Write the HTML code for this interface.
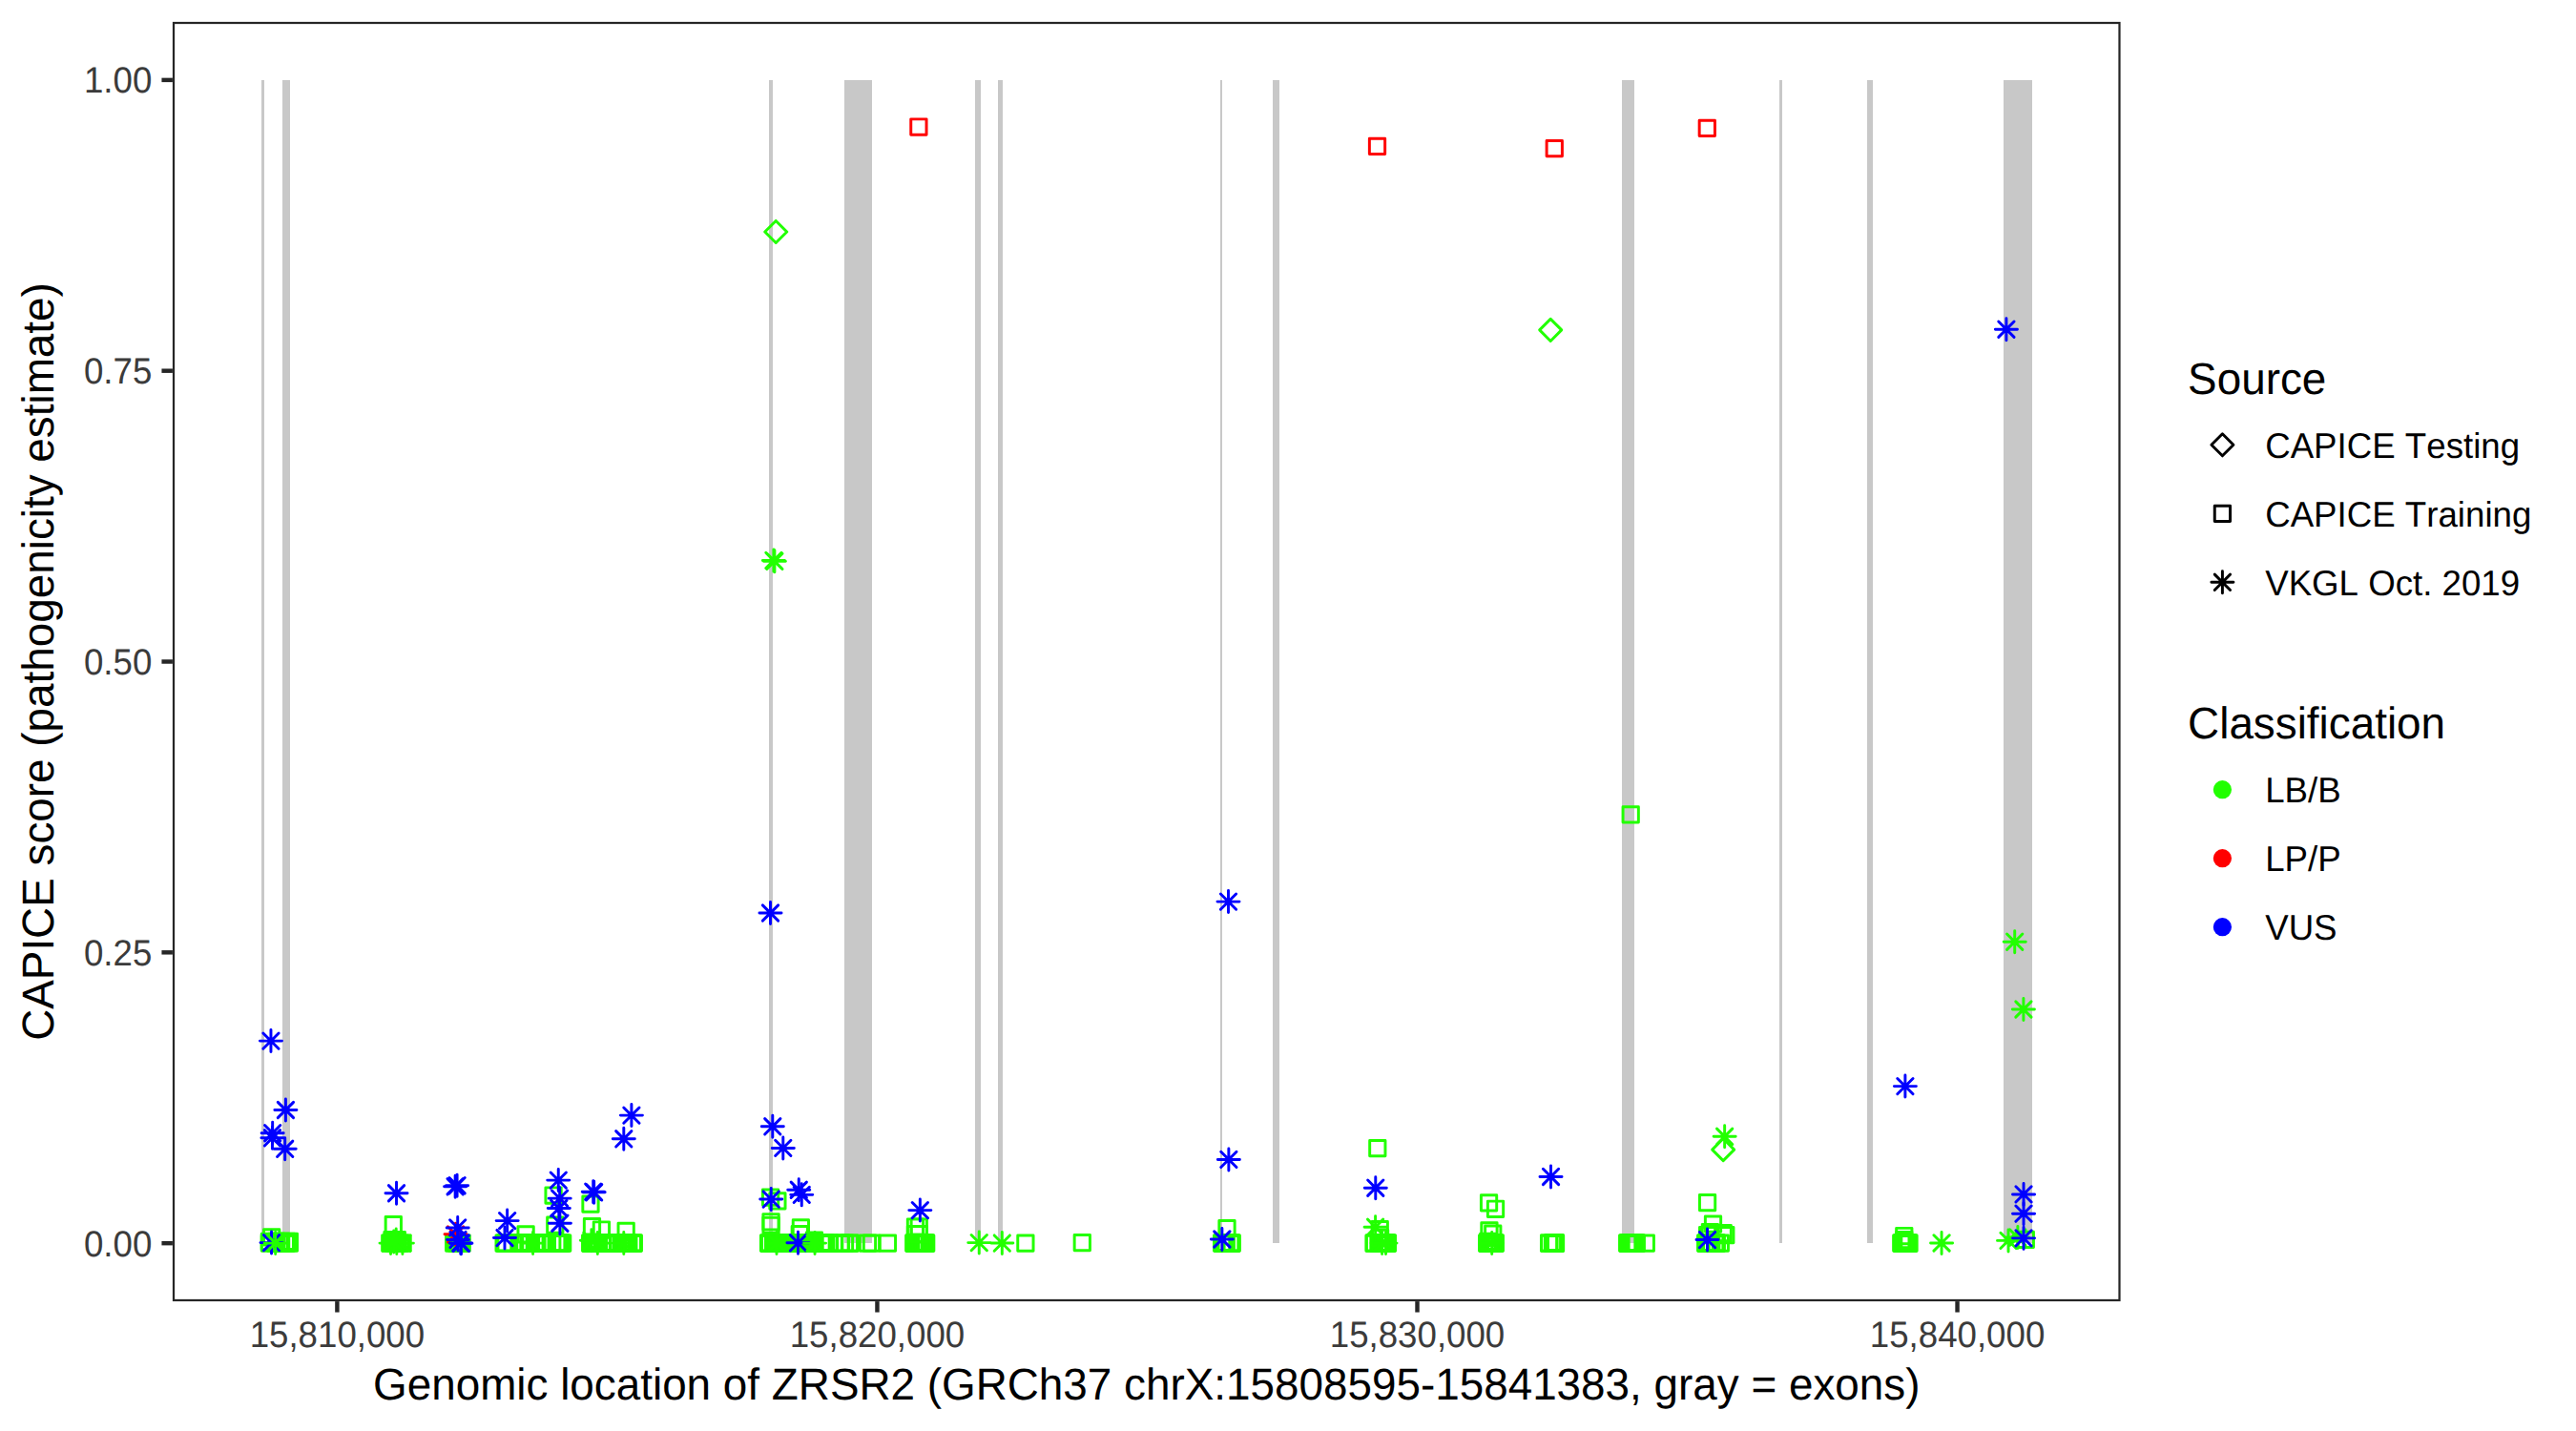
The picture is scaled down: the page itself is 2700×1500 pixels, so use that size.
<!DOCTYPE html>
<html lang="en">
<head>
<meta charset="utf-8">
<title>CAPICE score across ZRSR2</title>
<style>
html,body{margin:0;padding:0;background:#fff;}
body{width:2700px;height:1500px;overflow:hidden;}
svg{display:block;}
text{font-family:"Liberation Sans",Arial,Helvetica,sans-serif;font-kerning:none;font-feature-settings:"kern" 0,"liga" 0;text-rendering:geometricPrecision;}
.at{font-size:36.67px;fill:#3B3B3B;}
.ti{font-size:45.83px;fill:#000;}
.lt{font-size:36.67px;fill:#000;}
.pt{fill:none;stroke-width:2.95;stroke-linecap:round;stroke-linejoin:round;}
</style>
</head>
<body>
<svg width="2700" height="1500" viewBox="0 0 2700 1500">
<rect x="0" y="0" width="2700" height="1500" fill="#FFFFFF"/>

<g shape-rendering="crispEdges">
<rect x="274" y="84" width="3" height="1219" fill="#C8C8C8"/>
<rect x="296" y="84" width="8" height="1219" fill="#C8C8C8"/>
<rect x="806" y="84" width="4" height="1219" fill="#C8C8C8"/>
<rect x="885" y="84" width="29" height="1219" fill="#C8C8C8"/>
<rect x="1022" y="84" width="6" height="1219" fill="#C8C8C8"/>
<rect x="1046" y="84" width="5" height="1219" fill="#C8C8C8"/>
<rect x="1279" y="84" width="2" height="1219" fill="#C8C8C8"/>
<rect x="1334" y="84" width="7" height="1219" fill="#C8C8C8"/>
<rect x="1700" y="84" width="13" height="1219" fill="#C8C8C8"/>
<rect x="1865" y="84" width="3" height="1219" fill="#C8C8C8"/>
<rect x="1957" y="84" width="6" height="1219" fill="#C8C8C8"/>
<rect x="2100" y="84" width="30" height="1219" fill="#C8C8C8"/>
</g>
<g class="pt">
<rect x="954.75" y="124.86" width="16.29" height="16.29" stroke="#FF0000"/>
<rect x="1435.36" y="145.2" width="16.29" height="16.29" stroke="#FF0000"/>
<rect x="1621.11" y="147.45" width="16.29" height="16.29" stroke="#FF0000"/>
<rect x="1781.15" y="126.16" width="16.29" height="16.29" stroke="#FF0000"/>
<rect x="1701.06" y="845.75" width="16.29" height="16.29" stroke="#22FF00"/>
<rect x="276.56" y="1288.76" width="16.29" height="16.29" stroke="#22FF00"/>
<rect x="274.25" y="1294.95" width="16.29" height="16.29" stroke="#22FF00"/>
<rect x="281.46" y="1294.95" width="16.29" height="16.29" stroke="#22FF00"/>
<rect x="284.86" y="1294.95" width="16.29" height="16.29" stroke="#22FF00"/>
<rect x="286.36" y="1294.95" width="16.29" height="16.29" stroke="#22FF00"/>
<rect x="291.16" y="1294.95" width="16.29" height="16.29" stroke="#22FF00"/>
<rect x="292.36" y="1294.95" width="16.29" height="16.29" stroke="#22FF00"/>
<rect x="295.25" y="1294.95" width="16.29" height="16.29" stroke="#22FF00"/>
<rect x="274.25" y="1293.31" width="16.29" height="16.29" stroke="#22FF00"/>
<rect x="281.46" y="1293.31" width="16.29" height="16.29" stroke="#22FF00"/>
<rect x="286.36" y="1293.31" width="16.29" height="16.29" stroke="#22FF00"/>
<rect x="292.36" y="1293.31" width="16.29" height="16.29" stroke="#22FF00"/>
<rect x="295.25" y="1293.31" width="16.29" height="16.29" stroke="#22FF00"/>
<rect x="404.16" y="1275.51" width="16.29" height="16.29" stroke="#22FF00"/>
<rect x="400.66" y="1294.95" width="16.29" height="16.29" stroke="#22FF00"/>
<rect x="403.32" y="1294.95" width="16.29" height="16.29" stroke="#22FF00"/>
<rect x="405.98" y="1294.95" width="16.29" height="16.29" stroke="#22FF00"/>
<rect x="408.64" y="1294.95" width="16.29" height="16.29" stroke="#22FF00"/>
<rect x="411.3" y="1294.95" width="16.29" height="16.29" stroke="#22FF00"/>
<rect x="413.96" y="1294.95" width="16.29" height="16.29" stroke="#22FF00"/>
<rect x="402.86" y="1291.56" width="16.29" height="16.29" stroke="#22FF00"/>
<rect x="405.5" y="1291.56" width="16.29" height="16.29" stroke="#22FF00"/>
<rect x="408.16" y="1291.56" width="16.29" height="16.29" stroke="#22FF00"/>
<rect x="467.56" y="1294.95" width="16.29" height="16.29" stroke="#22FF00"/>
<rect x="470.39" y="1294.95" width="16.29" height="16.29" stroke="#22FF00"/>
<rect x="473.22" y="1294.95" width="16.29" height="16.29" stroke="#22FF00"/>
<rect x="476.06" y="1294.95" width="16.29" height="16.29" stroke="#22FF00"/>
<rect x="519.98" y="1294.95" width="16.29" height="16.29" stroke="#22FF00"/>
<rect x="520.97" y="1294.95" width="16.29" height="16.29" stroke="#22FF00"/>
<rect x="521.97" y="1294.95" width="16.29" height="16.29" stroke="#22FF00"/>
<rect x="535.87" y="1294.95" width="16.29" height="16.29" stroke="#22FF00"/>
<rect x="536.86" y="1294.95" width="16.29" height="16.29" stroke="#22FF00"/>
<rect x="537.85" y="1294.95" width="16.29" height="16.29" stroke="#22FF00"/>
<rect x="538.85" y="1294.95" width="16.29" height="16.29" stroke="#22FF00"/>
<rect x="539.84" y="1294.95" width="16.29" height="16.29" stroke="#22FF00"/>
<rect x="540.83" y="1294.95" width="16.29" height="16.29" stroke="#22FF00"/>
<rect x="541.82" y="1294.95" width="16.29" height="16.29" stroke="#22FF00"/>
<rect x="545.8" y="1294.95" width="16.29" height="16.29" stroke="#22FF00"/>
<rect x="546.78" y="1294.95" width="16.29" height="16.29" stroke="#22FF00"/>
<rect x="547.77" y="1294.95" width="16.29" height="16.29" stroke="#22FF00"/>
<rect x="552.75" y="1294.95" width="16.29" height="16.29" stroke="#22FF00"/>
<rect x="553.74" y="1294.95" width="16.29" height="16.29" stroke="#22FF00"/>
<rect x="554.73" y="1294.95" width="16.29" height="16.29" stroke="#22FF00"/>
<rect x="558.7" y="1294.95" width="16.29" height="16.29" stroke="#22FF00"/>
<rect x="559.7" y="1294.95" width="16.29" height="16.29" stroke="#22FF00"/>
<rect x="560.69" y="1294.95" width="16.29" height="16.29" stroke="#22FF00"/>
<rect x="561.68" y="1294.95" width="16.29" height="16.29" stroke="#22FF00"/>
<rect x="562.66" y="1294.95" width="16.29" height="16.29" stroke="#22FF00"/>
<rect x="563.66" y="1294.95" width="16.29" height="16.29" stroke="#22FF00"/>
<rect x="564.65" y="1294.95" width="16.29" height="16.29" stroke="#22FF00"/>
<rect x="570.62" y="1294.95" width="16.29" height="16.29" stroke="#22FF00"/>
<rect x="575.58" y="1294.95" width="16.29" height="16.29" stroke="#22FF00"/>
<rect x="576.58" y="1294.95" width="16.29" height="16.29" stroke="#22FF00"/>
<rect x="577.57" y="1294.95" width="16.29" height="16.29" stroke="#22FF00"/>
<rect x="578.56" y="1294.95" width="16.29" height="16.29" stroke="#22FF00"/>
<rect x="579.55" y="1294.95" width="16.29" height="16.29" stroke="#22FF00"/>
<rect x="580.55" y="1294.95" width="16.29" height="16.29" stroke="#22FF00"/>
<rect x="581.53" y="1294.95" width="16.29" height="16.29" stroke="#22FF00"/>
<rect x="542.96" y="1285.65" width="16.29" height="16.29" stroke="#22FF00"/>
<rect x="571.93" y="1244.86" width="16.29" height="16.29" stroke="#22FF00"/>
<rect x="573.65" y="1275.95" width="16.29" height="16.29" stroke="#22FF00"/>
<rect x="610.56" y="1294.95" width="16.29" height="16.29" stroke="#22FF00"/>
<rect x="611.06" y="1294.95" width="16.29" height="16.29" stroke="#22FF00"/>
<rect x="611.56" y="1294.95" width="16.29" height="16.29" stroke="#22FF00"/>
<rect x="612.06" y="1294.95" width="16.29" height="16.29" stroke="#22FF00"/>
<rect x="612.56" y="1294.95" width="16.29" height="16.29" stroke="#22FF00"/>
<rect x="613.07" y="1294.95" width="16.29" height="16.29" stroke="#22FF00"/>
<rect x="613.57" y="1294.95" width="16.29" height="16.29" stroke="#22FF00"/>
<rect x="614.07" y="1294.95" width="16.29" height="16.29" stroke="#22FF00"/>
<rect x="614.57" y="1294.95" width="16.29" height="16.29" stroke="#22FF00"/>
<rect x="615.07" y="1294.95" width="16.29" height="16.29" stroke="#22FF00"/>
<rect x="615.57" y="1294.95" width="16.29" height="16.29" stroke="#22FF00"/>
<rect x="616.07" y="1294.95" width="16.29" height="16.29" stroke="#22FF00"/>
<rect x="616.57" y="1294.95" width="16.29" height="16.29" stroke="#22FF00"/>
<rect x="617.08" y="1294.95" width="16.29" height="16.29" stroke="#22FF00"/>
<rect x="617.58" y="1294.95" width="16.29" height="16.29" stroke="#22FF00"/>
<rect x="618.08" y="1294.95" width="16.29" height="16.29" stroke="#22FF00"/>
<rect x="618.58" y="1294.95" width="16.29" height="16.29" stroke="#22FF00"/>
<rect x="619.08" y="1294.95" width="16.29" height="16.29" stroke="#22FF00"/>
<rect x="623.09" y="1294.95" width="16.29" height="16.29" stroke="#22FF00"/>
<rect x="623.59" y="1294.95" width="16.29" height="16.29" stroke="#22FF00"/>
<rect x="627.1" y="1294.95" width="16.29" height="16.29" stroke="#22FF00"/>
<rect x="627.6" y="1294.95" width="16.29" height="16.29" stroke="#22FF00"/>
<rect x="628.1" y="1294.95" width="16.29" height="16.29" stroke="#22FF00"/>
<rect x="628.6" y="1294.95" width="16.29" height="16.29" stroke="#22FF00"/>
<rect x="629.1" y="1294.95" width="16.29" height="16.29" stroke="#22FF00"/>
<rect x="629.61" y="1294.95" width="16.29" height="16.29" stroke="#22FF00"/>
<rect x="630.11" y="1294.95" width="16.29" height="16.29" stroke="#22FF00"/>
<rect x="630.61" y="1294.95" width="16.29" height="16.29" stroke="#22FF00"/>
<rect x="631.11" y="1294.95" width="16.29" height="16.29" stroke="#22FF00"/>
<rect x="631.61" y="1294.95" width="16.29" height="16.29" stroke="#22FF00"/>
<rect x="632.11" y="1294.95" width="16.29" height="16.29" stroke="#22FF00"/>
<rect x="632.61" y="1294.95" width="16.29" height="16.29" stroke="#22FF00"/>
<rect x="633.11" y="1294.95" width="16.29" height="16.29" stroke="#22FF00"/>
<rect x="633.62" y="1294.95" width="16.29" height="16.29" stroke="#22FF00"/>
<rect x="634.12" y="1294.95" width="16.29" height="16.29" stroke="#22FF00"/>
<rect x="634.62" y="1294.95" width="16.29" height="16.29" stroke="#22FF00"/>
<rect x="635.12" y="1294.95" width="16.29" height="16.29" stroke="#22FF00"/>
<rect x="635.62" y="1294.95" width="16.29" height="16.29" stroke="#22FF00"/>
<rect x="639.62" y="1294.95" width="16.29" height="16.29" stroke="#22FF00"/>
<rect x="643.13" y="1294.95" width="16.29" height="16.29" stroke="#22FF00"/>
<rect x="643.63" y="1294.95" width="16.29" height="16.29" stroke="#22FF00"/>
<rect x="644.13" y="1294.95" width="16.29" height="16.29" stroke="#22FF00"/>
<rect x="644.63" y="1294.95" width="16.29" height="16.29" stroke="#22FF00"/>
<rect x="645.13" y="1294.95" width="16.29" height="16.29" stroke="#22FF00"/>
<rect x="645.63" y="1294.95" width="16.29" height="16.29" stroke="#22FF00"/>
<rect x="646.14" y="1294.95" width="16.29" height="16.29" stroke="#22FF00"/>
<rect x="646.64" y="1294.95" width="16.29" height="16.29" stroke="#22FF00"/>
<rect x="647.14" y="1294.95" width="16.29" height="16.29" stroke="#22FF00"/>
<rect x="647.64" y="1294.95" width="16.29" height="16.29" stroke="#22FF00"/>
<rect x="648.14" y="1294.95" width="16.29" height="16.29" stroke="#22FF00"/>
<rect x="648.64" y="1294.95" width="16.29" height="16.29" stroke="#22FF00"/>
<rect x="649.14" y="1294.95" width="16.29" height="16.29" stroke="#22FF00"/>
<rect x="649.64" y="1294.95" width="16.29" height="16.29" stroke="#22FF00"/>
<rect x="650.15" y="1294.95" width="16.29" height="16.29" stroke="#22FF00"/>
<rect x="650.65" y="1294.95" width="16.29" height="16.29" stroke="#22FF00"/>
<rect x="655.16" y="1294.95" width="16.29" height="16.29" stroke="#22FF00"/>
<rect x="655.66" y="1294.95" width="16.29" height="16.29" stroke="#22FF00"/>
<rect x="656.16" y="1294.95" width="16.29" height="16.29" stroke="#22FF00"/>
<rect x="610.83" y="1253.95" width="16.29" height="16.29" stroke="#22FF00"/>
<rect x="612.34" y="1277.59" width="16.29" height="16.29" stroke="#22FF00"/>
<rect x="622.25" y="1280.86" width="16.29" height="16.29" stroke="#22FF00"/>
<rect x="648.03" y="1282.26" width="16.29" height="16.29" stroke="#22FF00"/>
<rect x="797.44" y="1294.95" width="16.29" height="16.29" stroke="#22FF00"/>
<rect x="797.94" y="1294.95" width="16.29" height="16.29" stroke="#22FF00"/>
<rect x="798.44" y="1294.95" width="16.29" height="16.29" stroke="#22FF00"/>
<rect x="802.43" y="1294.95" width="16.29" height="16.29" stroke="#22FF00"/>
<rect x="802.93" y="1294.95" width="16.29" height="16.29" stroke="#22FF00"/>
<rect x="803.43" y="1294.95" width="16.29" height="16.29" stroke="#22FF00"/>
<rect x="803.93" y="1294.95" width="16.29" height="16.29" stroke="#22FF00"/>
<rect x="804.43" y="1294.95" width="16.29" height="16.29" stroke="#22FF00"/>
<rect x="804.93" y="1294.95" width="16.29" height="16.29" stroke="#22FF00"/>
<rect x="805.43" y="1294.95" width="16.29" height="16.29" stroke="#22FF00"/>
<rect x="805.93" y="1294.95" width="16.29" height="16.29" stroke="#22FF00"/>
<rect x="806.43" y="1294.95" width="16.29" height="16.29" stroke="#22FF00"/>
<rect x="806.93" y="1294.95" width="16.29" height="16.29" stroke="#22FF00"/>
<rect x="807.43" y="1294.95" width="16.29" height="16.29" stroke="#22FF00"/>
<rect x="807.93" y="1294.95" width="16.29" height="16.29" stroke="#22FF00"/>
<rect x="808.43" y="1294.95" width="16.29" height="16.29" stroke="#22FF00"/>
<rect x="808.93" y="1294.95" width="16.29" height="16.29" stroke="#22FF00"/>
<rect x="809.43" y="1294.95" width="16.29" height="16.29" stroke="#22FF00"/>
<rect x="809.93" y="1294.95" width="16.29" height="16.29" stroke="#22FF00"/>
<rect x="810.41" y="1294.95" width="16.29" height="16.29" stroke="#22FF00"/>
<rect x="810.91" y="1294.95" width="16.29" height="16.29" stroke="#22FF00"/>
<rect x="811.41" y="1294.95" width="16.29" height="16.29" stroke="#22FF00"/>
<rect x="811.91" y="1294.95" width="16.29" height="16.29" stroke="#22FF00"/>
<rect x="812.41" y="1294.95" width="16.29" height="16.29" stroke="#22FF00"/>
<rect x="812.91" y="1294.95" width="16.29" height="16.29" stroke="#22FF00"/>
<rect x="813.41" y="1294.95" width="16.29" height="16.29" stroke="#22FF00"/>
<rect x="813.91" y="1294.95" width="16.29" height="16.29" stroke="#22FF00"/>
<rect x="814.41" y="1294.95" width="16.29" height="16.29" stroke="#22FF00"/>
<rect x="814.91" y="1294.95" width="16.29" height="16.29" stroke="#22FF00"/>
<rect x="815.41" y="1294.95" width="16.29" height="16.29" stroke="#22FF00"/>
<rect x="815.91" y="1294.95" width="16.29" height="16.29" stroke="#22FF00"/>
<rect x="816.41" y="1294.95" width="16.29" height="16.29" stroke="#22FF00"/>
<rect x="816.91" y="1294.95" width="16.29" height="16.29" stroke="#22FF00"/>
<rect x="817.41" y="1294.95" width="16.29" height="16.29" stroke="#22FF00"/>
<rect x="817.91" y="1294.95" width="16.29" height="16.29" stroke="#22FF00"/>
<rect x="818.4" y="1294.95" width="16.29" height="16.29" stroke="#22FF00"/>
<rect x="818.9" y="1294.95" width="16.29" height="16.29" stroke="#22FF00"/>
<rect x="819.4" y="1294.95" width="16.29" height="16.29" stroke="#22FF00"/>
<rect x="819.9" y="1294.95" width="16.29" height="16.29" stroke="#22FF00"/>
<rect x="820.4" y="1294.95" width="16.29" height="16.29" stroke="#22FF00"/>
<rect x="820.9" y="1294.95" width="16.29" height="16.29" stroke="#22FF00"/>
<rect x="821.4" y="1294.95" width="16.29" height="16.29" stroke="#22FF00"/>
<rect x="821.9" y="1294.95" width="16.29" height="16.29" stroke="#22FF00"/>
<rect x="822.4" y="1294.95" width="16.29" height="16.29" stroke="#22FF00"/>
<rect x="822.9" y="1294.95" width="16.29" height="16.29" stroke="#22FF00"/>
<rect x="823.4" y="1294.95" width="16.29" height="16.29" stroke="#22FF00"/>
<rect x="823.9" y="1294.95" width="16.29" height="16.29" stroke="#22FF00"/>
<rect x="824.4" y="1294.95" width="16.29" height="16.29" stroke="#22FF00"/>
<rect x="824.9" y="1294.95" width="16.29" height="16.29" stroke="#22FF00"/>
<rect x="825.4" y="1294.95" width="16.29" height="16.29" stroke="#22FF00"/>
<rect x="825.9" y="1294.95" width="16.29" height="16.29" stroke="#22FF00"/>
<rect x="826.4" y="1294.95" width="16.29" height="16.29" stroke="#22FF00"/>
<rect x="826.89" y="1294.95" width="16.29" height="16.29" stroke="#22FF00"/>
<rect x="827.39" y="1294.95" width="16.29" height="16.29" stroke="#22FF00"/>
<rect x="827.89" y="1294.95" width="16.29" height="16.29" stroke="#22FF00"/>
<rect x="828.39" y="1294.95" width="16.29" height="16.29" stroke="#22FF00"/>
<rect x="828.89" y="1294.95" width="16.29" height="16.29" stroke="#22FF00"/>
<rect x="829.39" y="1294.95" width="16.29" height="16.29" stroke="#22FF00"/>
<rect x="829.89" y="1294.95" width="16.29" height="16.29" stroke="#22FF00"/>
<rect x="830.39" y="1294.95" width="16.29" height="16.29" stroke="#22FF00"/>
<rect x="830.89" y="1294.95" width="16.29" height="16.29" stroke="#22FF00"/>
<rect x="831.39" y="1294.95" width="16.29" height="16.29" stroke="#22FF00"/>
<rect x="831.89" y="1294.95" width="16.29" height="16.29" stroke="#22FF00"/>
<rect x="832.39" y="1294.95" width="16.29" height="16.29" stroke="#22FF00"/>
<rect x="832.89" y="1294.95" width="16.29" height="16.29" stroke="#22FF00"/>
<rect x="833.39" y="1294.95" width="16.29" height="16.29" stroke="#22FF00"/>
<rect x="833.89" y="1294.95" width="16.29" height="16.29" stroke="#22FF00"/>
<rect x="834.39" y="1294.95" width="16.29" height="16.29" stroke="#22FF00"/>
<rect x="834.88" y="1294.95" width="16.29" height="16.29" stroke="#22FF00"/>
<rect x="835.38" y="1294.95" width="16.29" height="16.29" stroke="#22FF00"/>
<rect x="835.88" y="1294.95" width="16.29" height="16.29" stroke="#22FF00"/>
<rect x="836.38" y="1294.95" width="16.29" height="16.29" stroke="#22FF00"/>
<rect x="836.88" y="1294.95" width="16.29" height="16.29" stroke="#22FF00"/>
<rect x="837.38" y="1294.95" width="16.29" height="16.29" stroke="#22FF00"/>
<rect x="837.88" y="1294.95" width="16.29" height="16.29" stroke="#22FF00"/>
<rect x="838.38" y="1294.95" width="16.29" height="16.29" stroke="#22FF00"/>
<rect x="838.88" y="1294.95" width="16.29" height="16.29" stroke="#22FF00"/>
<rect x="839.38" y="1294.95" width="16.29" height="16.29" stroke="#22FF00"/>
<rect x="839.88" y="1294.95" width="16.29" height="16.29" stroke="#22FF00"/>
<rect x="840.38" y="1294.95" width="16.29" height="16.29" stroke="#22FF00"/>
<rect x="840.88" y="1294.95" width="16.29" height="16.29" stroke="#22FF00"/>
<rect x="841.38" y="1294.95" width="16.29" height="16.29" stroke="#22FF00"/>
<rect x="841.88" y="1294.95" width="16.29" height="16.29" stroke="#22FF00"/>
<rect x="842.38" y="1294.95" width="16.29" height="16.29" stroke="#22FF00"/>
<rect x="842.88" y="1294.95" width="16.29" height="16.29" stroke="#22FF00"/>
<rect x="843.38" y="1294.95" width="16.29" height="16.29" stroke="#22FF00"/>
<rect x="843.88" y="1294.95" width="16.29" height="16.29" stroke="#22FF00"/>
<rect x="844.38" y="1294.95" width="16.29" height="16.29" stroke="#22FF00"/>
<rect x="844.88" y="1294.95" width="16.29" height="16.29" stroke="#22FF00"/>
<rect x="845.38" y="1294.95" width="16.29" height="16.29" stroke="#22FF00"/>
<rect x="845.88" y="1294.95" width="16.29" height="16.29" stroke="#22FF00"/>
<rect x="852.87" y="1294.95" width="16.29" height="16.29" stroke="#22FF00"/>
<rect x="853.37" y="1294.95" width="16.29" height="16.29" stroke="#22FF00"/>
<rect x="853.87" y="1294.95" width="16.29" height="16.29" stroke="#22FF00"/>
<rect x="854.37" y="1294.95" width="16.29" height="16.29" stroke="#22FF00"/>
<rect x="854.87" y="1294.95" width="16.29" height="16.29" stroke="#22FF00"/>
<rect x="855.37" y="1294.95" width="16.29" height="16.29" stroke="#22FF00"/>
<rect x="855.87" y="1294.95" width="16.29" height="16.29" stroke="#22FF00"/>
<rect x="856.37" y="1294.95" width="16.29" height="16.29" stroke="#22FF00"/>
<rect x="856.87" y="1294.95" width="16.29" height="16.29" stroke="#22FF00"/>
<rect x="857.37" y="1294.95" width="16.29" height="16.29" stroke="#22FF00"/>
<rect x="860.86" y="1294.95" width="16.29" height="16.29" stroke="#22FF00"/>
<rect x="861.36" y="1294.95" width="16.29" height="16.29" stroke="#22FF00"/>
<rect x="872.85" y="1294.95" width="16.29" height="16.29" stroke="#22FF00"/>
<rect x="873.35" y="1294.95" width="16.29" height="16.29" stroke="#22FF00"/>
<rect x="877.34" y="1294.95" width="16.29" height="16.29" stroke="#22FF00"/>
<rect x="882.34" y="1294.95" width="16.29" height="16.29" stroke="#22FF00"/>
<rect x="882.84" y="1294.95" width="16.29" height="16.29" stroke="#22FF00"/>
<rect x="901.32" y="1294.95" width="16.29" height="16.29" stroke="#22FF00"/>
<rect x="905.31" y="1294.95" width="16.29" height="16.29" stroke="#22FF00"/>
<rect x="922.28" y="1294.95" width="16.29" height="16.29" stroke="#22FF00"/>
<rect x="799.44" y="1247.06" width="16.29" height="16.29" stroke="#22FF00"/>
<rect x="806.74" y="1250.71" width="16.29" height="16.29" stroke="#22FF00"/>
<rect x="799.93" y="1272.62" width="16.29" height="16.29" stroke="#22FF00"/>
<rect x="799.93" y="1276.26" width="16.29" height="16.29" stroke="#22FF00"/>
<rect x="831.24" y="1278.8" width="16.29" height="16.29" stroke="#22FF00"/>
<rect x="830.15" y="1285.56" width="16.29" height="16.29" stroke="#22FF00"/>
<rect x="845.25" y="1291.86" width="16.29" height="16.29" stroke="#22FF00"/>
<rect x="949.68" y="1294.95" width="16.29" height="16.29" stroke="#22FF00"/>
<rect x="950.16" y="1294.95" width="16.29" height="16.29" stroke="#22FF00"/>
<rect x="950.66" y="1294.95" width="16.29" height="16.29" stroke="#22FF00"/>
<rect x="951.15" y="1294.95" width="16.29" height="16.29" stroke="#22FF00"/>
<rect x="951.65" y="1294.95" width="16.29" height="16.29" stroke="#22FF00"/>
<rect x="952.14" y="1294.95" width="16.29" height="16.29" stroke="#22FF00"/>
<rect x="952.64" y="1294.95" width="16.29" height="16.29" stroke="#22FF00"/>
<rect x="953.13" y="1294.95" width="16.29" height="16.29" stroke="#22FF00"/>
<rect x="953.63" y="1294.95" width="16.29" height="16.29" stroke="#22FF00"/>
<rect x="954.12" y="1294.95" width="16.29" height="16.29" stroke="#22FF00"/>
<rect x="954.62" y="1294.95" width="16.29" height="16.29" stroke="#22FF00"/>
<rect x="955.12" y="1294.95" width="16.29" height="16.29" stroke="#22FF00"/>
<rect x="955.62" y="1294.95" width="16.29" height="16.29" stroke="#22FF00"/>
<rect x="956.11" y="1294.95" width="16.29" height="16.29" stroke="#22FF00"/>
<rect x="956.61" y="1294.95" width="16.29" height="16.29" stroke="#22FF00"/>
<rect x="957.1" y="1294.95" width="16.29" height="16.29" stroke="#22FF00"/>
<rect x="957.6" y="1294.95" width="16.29" height="16.29" stroke="#22FF00"/>
<rect x="958.09" y="1294.95" width="16.29" height="16.29" stroke="#22FF00"/>
<rect x="958.59" y="1294.95" width="16.29" height="16.29" stroke="#22FF00"/>
<rect x="959.08" y="1294.95" width="16.29" height="16.29" stroke="#22FF00"/>
<rect x="959.58" y="1294.95" width="16.29" height="16.29" stroke="#22FF00"/>
<rect x="960.07" y="1294.95" width="16.29" height="16.29" stroke="#22FF00"/>
<rect x="960.57" y="1294.95" width="16.29" height="16.29" stroke="#22FF00"/>
<rect x="961.06" y="1294.95" width="16.29" height="16.29" stroke="#22FF00"/>
<rect x="961.56" y="1294.95" width="16.29" height="16.29" stroke="#22FF00"/>
<rect x="962.05" y="1294.95" width="16.29" height="16.29" stroke="#22FF00"/>
<rect x="962.55" y="1294.95" width="16.29" height="16.29" stroke="#22FF00"/>
<rect x="951.32" y="1277.86" width="16.29" height="16.29" stroke="#22FF00"/>
<rect x="955.12" y="1277.86" width="16.29" height="16.29" stroke="#22FF00"/>
<rect x="951.32" y="1285.45" width="16.29" height="16.29" stroke="#22FF00"/>
<rect x="955.12" y="1285.45" width="16.29" height="16.29" stroke="#22FF00"/>
<rect x="1066.75" y="1294.9" width="16.29" height="16.29" stroke="#22FF00"/>
<rect x="1126.15" y="1294.45" width="16.29" height="16.29" stroke="#22FF00"/>
<rect x="1272.54" y="1294.95" width="16.29" height="16.29" stroke="#22FF00"/>
<rect x="1273.04" y="1294.95" width="16.29" height="16.29" stroke="#22FF00"/>
<rect x="1273.54" y="1294.95" width="16.29" height="16.29" stroke="#22FF00"/>
<rect x="1274.05" y="1294.95" width="16.29" height="16.29" stroke="#22FF00"/>
<rect x="1274.55" y="1294.95" width="16.29" height="16.29" stroke="#22FF00"/>
<rect x="1275.05" y="1294.95" width="16.29" height="16.29" stroke="#22FF00"/>
<rect x="1275.55" y="1294.95" width="16.29" height="16.29" stroke="#22FF00"/>
<rect x="1276.06" y="1294.95" width="16.29" height="16.29" stroke="#22FF00"/>
<rect x="1276.56" y="1294.95" width="16.29" height="16.29" stroke="#22FF00"/>
<rect x="1277.06" y="1294.95" width="16.29" height="16.29" stroke="#22FF00"/>
<rect x="1281.58" y="1294.95" width="16.29" height="16.29" stroke="#22FF00"/>
<rect x="1282.09" y="1294.95" width="16.29" height="16.29" stroke="#22FF00"/>
<rect x="1282.59" y="1294.95" width="16.29" height="16.29" stroke="#22FF00"/>
<rect x="1283.09" y="1294.95" width="16.29" height="16.29" stroke="#22FF00"/>
<rect x="1277.86" y="1279.58" width="16.29" height="16.29" stroke="#22FF00"/>
<rect x="1431.9" y="1294.95" width="16.29" height="16.29" stroke="#22FF00"/>
<rect x="1432.4" y="1294.95" width="16.29" height="16.29" stroke="#22FF00"/>
<rect x="1436.86" y="1294.95" width="16.29" height="16.29" stroke="#22FF00"/>
<rect x="1437.36" y="1294.95" width="16.29" height="16.29" stroke="#22FF00"/>
<rect x="1437.85" y="1294.95" width="16.29" height="16.29" stroke="#22FF00"/>
<rect x="1438.35" y="1294.95" width="16.29" height="16.29" stroke="#22FF00"/>
<rect x="1438.84" y="1294.95" width="16.29" height="16.29" stroke="#22FF00"/>
<rect x="1439.34" y="1294.95" width="16.29" height="16.29" stroke="#22FF00"/>
<rect x="1439.83" y="1294.95" width="16.29" height="16.29" stroke="#22FF00"/>
<rect x="1440.33" y="1294.95" width="16.29" height="16.29" stroke="#22FF00"/>
<rect x="1440.82" y="1294.95" width="16.29" height="16.29" stroke="#22FF00"/>
<rect x="1441.32" y="1294.95" width="16.29" height="16.29" stroke="#22FF00"/>
<rect x="1441.81" y="1294.95" width="16.29" height="16.29" stroke="#22FF00"/>
<rect x="1442.31" y="1294.95" width="16.29" height="16.29" stroke="#22FF00"/>
<rect x="1442.8" y="1294.95" width="16.29" height="16.29" stroke="#22FF00"/>
<rect x="1443.3" y="1294.95" width="16.29" height="16.29" stroke="#22FF00"/>
<rect x="1443.79" y="1294.95" width="16.29" height="16.29" stroke="#22FF00"/>
<rect x="1444.29" y="1294.95" width="16.29" height="16.29" stroke="#22FF00"/>
<rect x="1444.78" y="1294.95" width="16.29" height="16.29" stroke="#22FF00"/>
<rect x="1445.28" y="1294.95" width="16.29" height="16.29" stroke="#22FF00"/>
<rect x="1445.77" y="1294.95" width="16.29" height="16.29" stroke="#22FF00"/>
<rect x="1446.27" y="1294.95" width="16.29" height="16.29" stroke="#22FF00"/>
<rect x="1435.67" y="1195.47" width="16.29" height="16.29" stroke="#22FF00"/>
<rect x="1438.1" y="1280.49" width="16.29" height="16.29" stroke="#22FF00"/>
<rect x="1438.45" y="1289.36" width="16.29" height="16.29" stroke="#22FF00"/>
<rect x="1550.54" y="1294.95" width="16.29" height="16.29" stroke="#22FF00"/>
<rect x="1551.05" y="1294.95" width="16.29" height="16.29" stroke="#22FF00"/>
<rect x="1551.55" y="1294.95" width="16.29" height="16.29" stroke="#22FF00"/>
<rect x="1552.06" y="1294.95" width="16.29" height="16.29" stroke="#22FF00"/>
<rect x="1552.57" y="1294.95" width="16.29" height="16.29" stroke="#22FF00"/>
<rect x="1553.08" y="1294.95" width="16.29" height="16.29" stroke="#22FF00"/>
<rect x="1553.58" y="1294.95" width="16.29" height="16.29" stroke="#22FF00"/>
<rect x="1554.09" y="1294.95" width="16.29" height="16.29" stroke="#22FF00"/>
<rect x="1554.6" y="1294.95" width="16.29" height="16.29" stroke="#22FF00"/>
<rect x="1555.1" y="1294.95" width="16.29" height="16.29" stroke="#22FF00"/>
<rect x="1555.61" y="1294.95" width="16.29" height="16.29" stroke="#22FF00"/>
<rect x="1556.12" y="1294.95" width="16.29" height="16.29" stroke="#22FF00"/>
<rect x="1556.62" y="1294.95" width="16.29" height="16.29" stroke="#22FF00"/>
<rect x="1557.12" y="1294.95" width="16.29" height="16.29" stroke="#22FF00"/>
<rect x="1557.63" y="1294.95" width="16.29" height="16.29" stroke="#22FF00"/>
<rect x="1558.14" y="1294.95" width="16.29" height="16.29" stroke="#22FF00"/>
<rect x="1558.64" y="1294.95" width="16.29" height="16.29" stroke="#22FF00"/>
<rect x="1559.15" y="1294.95" width="16.29" height="16.29" stroke="#22FF00"/>
<rect x="1552.42" y="1252.77" width="16.29" height="16.29" stroke="#22FF00"/>
<rect x="1559.38" y="1259.12" width="16.29" height="16.29" stroke="#22FF00"/>
<rect x="1552.8" y="1281.79" width="16.29" height="16.29" stroke="#22FF00"/>
<rect x="1556.63" y="1284.93" width="16.29" height="16.29" stroke="#22FF00"/>
<rect x="1551.65" y="1293.12" width="16.29" height="16.29" stroke="#22FF00"/>
<rect x="1615.46" y="1294.95" width="16.29" height="16.29" stroke="#22FF00"/>
<rect x="1615.71" y="1294.95" width="16.29" height="16.29" stroke="#22FF00"/>
<rect x="1619.4" y="1294.95" width="16.29" height="16.29" stroke="#22FF00"/>
<rect x="1619.65" y="1294.95" width="16.29" height="16.29" stroke="#22FF00"/>
<rect x="1619.9" y="1294.95" width="16.29" height="16.29" stroke="#22FF00"/>
<rect x="1620.14" y="1294.95" width="16.29" height="16.29" stroke="#22FF00"/>
<rect x="1620.39" y="1294.95" width="16.29" height="16.29" stroke="#22FF00"/>
<rect x="1620.64" y="1294.95" width="16.29" height="16.29" stroke="#22FF00"/>
<rect x="1620.88" y="1294.95" width="16.29" height="16.29" stroke="#22FF00"/>
<rect x="1621.13" y="1294.95" width="16.29" height="16.29" stroke="#22FF00"/>
<rect x="1621.38" y="1294.95" width="16.29" height="16.29" stroke="#22FF00"/>
<rect x="1621.62" y="1294.95" width="16.29" height="16.29" stroke="#22FF00"/>
<rect x="1621.88" y="1294.95" width="16.29" height="16.29" stroke="#22FF00"/>
<rect x="1622.12" y="1294.95" width="16.29" height="16.29" stroke="#22FF00"/>
<rect x="1622.37" y="1294.95" width="16.29" height="16.29" stroke="#22FF00"/>
<rect x="1697.58" y="1294.95" width="16.29" height="16.29" stroke="#22FF00"/>
<rect x="1698.08" y="1294.95" width="16.29" height="16.29" stroke="#22FF00"/>
<rect x="1698.58" y="1294.95" width="16.29" height="16.29" stroke="#22FF00"/>
<rect x="1699.09" y="1294.95" width="16.29" height="16.29" stroke="#22FF00"/>
<rect x="1699.59" y="1294.95" width="16.29" height="16.29" stroke="#22FF00"/>
<rect x="1700.09" y="1294.95" width="16.29" height="16.29" stroke="#22FF00"/>
<rect x="1700.59" y="1294.95" width="16.29" height="16.29" stroke="#22FF00"/>
<rect x="1701.1" y="1294.95" width="16.29" height="16.29" stroke="#22FF00"/>
<rect x="1701.6" y="1294.95" width="16.29" height="16.29" stroke="#22FF00"/>
<rect x="1702.1" y="1294.95" width="16.29" height="16.29" stroke="#22FF00"/>
<rect x="1702.6" y="1294.95" width="16.29" height="16.29" stroke="#22FF00"/>
<rect x="1703.11" y="1294.95" width="16.29" height="16.29" stroke="#22FF00"/>
<rect x="1703.61" y="1294.95" width="16.29" height="16.29" stroke="#22FF00"/>
<rect x="1704.11" y="1294.95" width="16.29" height="16.29" stroke="#22FF00"/>
<rect x="1704.61" y="1294.95" width="16.29" height="16.29" stroke="#22FF00"/>
<rect x="1705.11" y="1294.95" width="16.29" height="16.29" stroke="#22FF00"/>
<rect x="1705.62" y="1294.95" width="16.29" height="16.29" stroke="#22FF00"/>
<rect x="1706.12" y="1294.95" width="16.29" height="16.29" stroke="#22FF00"/>
<rect x="1706.62" y="1294.95" width="16.29" height="16.29" stroke="#22FF00"/>
<rect x="1707.12" y="1294.95" width="16.29" height="16.29" stroke="#22FF00"/>
<rect x="1717.16" y="1294.95" width="16.29" height="16.29" stroke="#22FF00"/>
<rect x="1779.58" y="1294.95" width="16.29" height="16.29" stroke="#22FF00"/>
<rect x="1780.08" y="1294.95" width="16.29" height="16.29" stroke="#22FF00"/>
<rect x="1780.59" y="1294.95" width="16.29" height="16.29" stroke="#22FF00"/>
<rect x="1781.09" y="1294.95" width="16.29" height="16.29" stroke="#22FF00"/>
<rect x="1781.59" y="1294.95" width="16.29" height="16.29" stroke="#22FF00"/>
<rect x="1782.09" y="1294.95" width="16.29" height="16.29" stroke="#22FF00"/>
<rect x="1782.6" y="1294.95" width="16.29" height="16.29" stroke="#22FF00"/>
<rect x="1783.1" y="1294.95" width="16.29" height="16.29" stroke="#22FF00"/>
<rect x="1783.6" y="1294.95" width="16.29" height="16.29" stroke="#22FF00"/>
<rect x="1784.11" y="1294.95" width="16.29" height="16.29" stroke="#22FF00"/>
<rect x="1784.61" y="1294.95" width="16.29" height="16.29" stroke="#22FF00"/>
<rect x="1785.11" y="1294.95" width="16.29" height="16.29" stroke="#22FF00"/>
<rect x="1785.61" y="1294.95" width="16.29" height="16.29" stroke="#22FF00"/>
<rect x="1789.63" y="1294.95" width="16.29" height="16.29" stroke="#22FF00"/>
<rect x="1790.13" y="1294.95" width="16.29" height="16.29" stroke="#22FF00"/>
<rect x="1790.63" y="1294.95" width="16.29" height="16.29" stroke="#22FF00"/>
<rect x="1791.14" y="1294.95" width="16.29" height="16.29" stroke="#22FF00"/>
<rect x="1795.16" y="1294.95" width="16.29" height="16.29" stroke="#22FF00"/>
<rect x="1781.44" y="1252.5" width="16.29" height="16.29" stroke="#22FF00"/>
<rect x="1787.37" y="1275.03" width="16.29" height="16.29" stroke="#22FF00"/>
<rect x="1784.29" y="1283.4" width="16.29" height="16.29" stroke="#22FF00"/>
<rect x="1798.05" y="1284.45" width="16.29" height="16.29" stroke="#22FF00"/>
<rect x="1800.66" y="1286.49" width="16.29" height="16.29" stroke="#22FF00"/>
<rect x="1781.51" y="1286.56" width="16.29" height="16.29" stroke="#22FF00"/>
<rect x="1984.68" y="1294.95" width="16.29" height="16.29" stroke="#22FF00"/>
<rect x="1985.19" y="1294.95" width="16.29" height="16.29" stroke="#22FF00"/>
<rect x="1985.7" y="1294.95" width="16.29" height="16.29" stroke="#22FF00"/>
<rect x="1986.21" y="1294.95" width="16.29" height="16.29" stroke="#22FF00"/>
<rect x="1986.72" y="1294.95" width="16.29" height="16.29" stroke="#22FF00"/>
<rect x="1987.24" y="1294.95" width="16.29" height="16.29" stroke="#22FF00"/>
<rect x="1987.75" y="1294.95" width="16.29" height="16.29" stroke="#22FF00"/>
<rect x="1988.26" y="1294.95" width="16.29" height="16.29" stroke="#22FF00"/>
<rect x="1988.76" y="1294.95" width="16.29" height="16.29" stroke="#22FF00"/>
<rect x="1989.27" y="1294.95" width="16.29" height="16.29" stroke="#22FF00"/>
<rect x="1989.78" y="1294.95" width="16.29" height="16.29" stroke="#22FF00"/>
<rect x="1990.29" y="1294.95" width="16.29" height="16.29" stroke="#22FF00"/>
<rect x="1990.8" y="1294.95" width="16.29" height="16.29" stroke="#22FF00"/>
<rect x="1991.31" y="1294.95" width="16.29" height="16.29" stroke="#22FF00"/>
<rect x="1991.82" y="1294.95" width="16.29" height="16.29" stroke="#22FF00"/>
<rect x="1992.33" y="1294.95" width="16.29" height="16.29" stroke="#22FF00"/>
<rect x="1992.84" y="1294.95" width="16.29" height="16.29" stroke="#22FF00"/>
<rect x="1987.65" y="1287.39" width="16.29" height="16.29" stroke="#22FF00"/>
<rect x="1987.65" y="1291.45" width="16.29" height="16.29" stroke="#22FF00"/>
<rect x="2115.16" y="1291.26" width="16.29" height="16.29" stroke="#22FF00"/>
<path d="M801.73 242.95L813.25 231.43L824.77 242.95L813.25 254.47Z" stroke="#22FF00"/>
<path d="M1613.68 345.9L1625.2 334.38L1636.72 345.9L1625.2 357.42Z" stroke="#22FF00"/>
<path d="M1794.66 1205.1L1806.18 1193.58L1817.7 1205.1L1806.18 1216.62Z" stroke="#22FF00"/>
<path d="M2094.76 337.06L2111.05 353.34M2094.76 353.34L2111.05 337.06M2091.38 345.2H2114.42M2102.9 333.68V356.72" stroke="#0000FF"/>
<path d="M802.75 579.25L819.04 595.54M802.75 595.54L819.04 579.25M799.38 587.4H822.42M810.9 575.88V598.92" stroke="#22FF00"/>
<path d="M803.75 580.21L820.04 596.5M803.75 596.5L820.04 580.21M800.38 588.35H823.42M811.9 576.83V599.87" stroke="#22FF00"/>
<path d="M799.36 948.86L815.64 965.14M799.36 965.14L815.64 948.86M795.98 957H819.02M807.5 945.48V968.52" stroke="#0000FF"/>
<path d="M1279.36 936.96L1295.64 953.25M1279.36 953.25L1295.64 936.96M1275.98 945.1H1299.02M1287.5 933.58V956.62" stroke="#0000FF"/>
<path d="M2103.55 979.06L2119.84 995.35M2103.55 995.35L2119.84 979.06M2100.18 987.2H2123.22M2111.7 975.68V998.72" stroke="#22FF00"/>
<path d="M2112.76 1049.86L2129.05 1066.14M2112.76 1066.14L2129.05 1049.86M2109.38 1058H2132.42M2120.9 1046.48V1069.52" stroke="#22FF00"/>
<path d="M1988.76 1130.45L2005.05 1146.74M1988.76 1146.74L2005.05 1130.45M1985.38 1138.6H2008.42M1996.9 1127.08V1150.12" stroke="#0000FF"/>
<path d="M275.81 1082.95L292.1 1099.24M275.81 1099.24L292.1 1082.95M272.44 1091.1H295.48M283.96 1079.58V1102.62" stroke="#0000FF"/>
<path d="M291.27 1155.34L307.56 1171.62M291.27 1171.62L307.56 1155.34M287.89 1163.48H310.93M299.41 1151.96V1175" stroke="#0000FF"/>
<path d="M277.52 1179.56L293.81 1195.85M277.52 1195.85L293.81 1179.56M274.14 1187.7H297.18M285.66 1176.18V1199.22" stroke="#0000FF"/>
<path d="M277.31 1184.65L293.59 1200.94M277.31 1200.94L293.59 1184.65M273.93 1192.8H296.97M285.45 1181.28V1204.32" stroke="#0000FF"/>
<path d="M290.56 1196.15L306.84 1212.44M290.56 1212.44L306.84 1196.15M287.18 1204.3H310.22M298.7 1192.78V1215.82" stroke="#0000FF"/>
<path d="M276.38 1294.45L292.67 1310.74M276.38 1310.74L292.67 1294.45M273.01 1302.6H296.05M284.53 1291.08V1314.12" stroke="#0000FF"/>
<path d="M280.56 1294.95L296.84 1311.24M280.56 1311.24L296.84 1294.95M277.18 1303.1H300.22M288.7 1291.58V1314.62" stroke="#22FF00"/>
<path d="M407.38 1242.61L423.67 1258.89M407.38 1258.89L423.67 1242.61M404.01 1250.75H427.05M415.53 1239.23V1262.27" stroke="#0000FF"/>
<path d="M401.36 1294.95L417.64 1311.24M401.36 1311.24L417.64 1294.95M397.98 1303.1H421.02M409.5 1291.58V1314.62" stroke="#22FF00"/>
<path d="M407.66 1294.95L423.94 1311.24M407.66 1311.24L423.94 1294.95M404.28 1303.1H427.32M415.8 1291.58V1314.62" stroke="#22FF00"/>
<path d="M413.75 1294.95L430.04 1311.24M413.75 1311.24L430.04 1294.95M410.38 1303.1H433.42M421.9 1291.58V1314.62" stroke="#22FF00"/>
<path d="M407.06 1291.45L423.34 1307.74M407.06 1307.74L423.34 1291.45M403.68 1299.6H426.72M415.2 1288.08V1311.12" stroke="#22FF00"/>
<path d="M404.56 1293.36L420.84 1309.64M404.56 1309.64L420.84 1293.36M401.18 1301.5H424.22M412.7 1289.98V1313.02" stroke="#22FF00"/>
<path d="M469.41 1285.69L485.69 1301.98M469.41 1301.98L485.69 1285.69M466.03 1293.84H489.07M477.55 1282.32V1305.36" stroke="#FF0000"/>
<path d="M468.98 1235.61L485.26 1251.89M468.98 1251.89L485.26 1235.61M465.6 1243.75H488.64M477.12 1232.23V1255.27" stroke="#0000FF"/>
<path d="M470.96 1234.56L487.25 1250.85M470.96 1250.85L487.25 1234.56M467.58 1242.7H490.62M479.1 1231.18V1254.22" stroke="#0000FF"/>
<path d="M471.56 1278.76L487.84 1295.05M471.56 1295.05L487.84 1278.76M468.18 1286.9H491.22M479.7 1275.38V1298.42" stroke="#0000FF"/>
<path d="M471.86 1291.36L488.14 1307.64M471.86 1307.64L488.14 1291.36M468.48 1299.5H491.52M480 1287.98V1311.02" stroke="#0000FF"/>
<path d="M474.66 1294.76L490.94 1311.05M474.66 1311.05L490.94 1294.76M471.28 1302.9H494.32M482.8 1291.38V1314.42" stroke="#0000FF"/>
<path d="M475.25 1295.15L491.54 1311.44M475.25 1311.44L491.54 1295.15M471.88 1303.3H494.92M483.4 1291.78V1314.82" stroke="#0000FF"/>
<path d="M523.51 1271.45L539.8 1287.74M523.51 1287.74L539.8 1271.45M520.14 1279.6H543.18M531.66 1268.08V1291.12" stroke="#0000FF"/>
<path d="M520.86 1289.42L537.14 1305.71M520.86 1305.71L537.14 1289.42M517.48 1297.57H540.52M529 1286.05V1309.09" stroke="#0000FF"/>
<path d="M577.12 1228.95L593.4 1245.24M577.12 1245.24L593.4 1228.95M573.74 1237.1H596.78M585.26 1225.58V1248.62" stroke="#0000FF"/>
<path d="M578.51 1247.99L594.8 1264.28M578.51 1264.28L594.8 1247.99M575.14 1256.13H598.18M586.66 1244.61V1267.65" stroke="#0000FF"/>
<path d="M577.65 1258.36L593.94 1274.64M577.65 1274.64L593.94 1258.36M574.28 1266.5H597.32M585.8 1254.98V1278.02" stroke="#0000FF"/>
<path d="M578.73 1274.06L595.01 1290.35M578.73 1290.35L595.01 1274.06M575.35 1282.2H598.39M586.87 1270.68V1293.72" stroke="#0000FF"/>
<path d="M613.61 1241.06L629.89 1257.35M613.61 1257.35L629.89 1241.06M610.23 1249.2H633.27M621.75 1237.68V1260.72" stroke="#0000FF"/>
<path d="M614.5 1241.65L630.79 1257.94M614.5 1257.94L630.79 1241.65M611.13 1249.8H634.17M622.65 1238.28V1261.32" stroke="#0000FF"/>
<path d="M653.75 1160.95L670.04 1177.24M653.75 1177.24L670.04 1160.95M650.38 1169.1H673.42M661.9 1157.58V1180.62" stroke="#0000FF"/>
<path d="M645.65 1185.65L661.94 1201.94M645.65 1201.94L661.94 1185.65M642.28 1193.8H665.32M653.8 1182.28V1205.32" stroke="#0000FF"/>
<path d="M611.75 1292.06L628.04 1308.35M611.75 1308.35L628.04 1292.06M608.38 1300.2H631.42M619.9 1288.68V1311.72" stroke="#22FF00"/>
<path d="M618.15 1294.95L634.44 1311.24M618.15 1311.24L634.44 1294.95M614.78 1303.1H637.82M626.3 1291.58V1314.62" stroke="#22FF00"/>
<path d="M645.65 1294.95L661.94 1311.24M645.65 1311.24L661.94 1294.95M642.28 1303.1H665.32M653.8 1291.58V1314.62" stroke="#22FF00"/>
<path d="M550.46 1294.95L566.75 1311.24M550.46 1311.24L566.75 1294.95M547.08 1303.1H570.12M558.6 1291.58V1314.62" stroke="#22FF00"/>
<path d="M801.65 1172.65L817.94 1188.94M801.65 1188.94L817.94 1172.65M798.28 1180.8H821.32M809.8 1169.28V1192.32" stroke="#0000FF"/>
<path d="M812.65 1195.26L828.94 1211.55M812.65 1211.55L828.94 1195.26M809.28 1203.4H832.32M820.8 1191.88V1214.92" stroke="#0000FF"/>
<path d="M800.1 1248.92L816.38 1265.21M800.1 1265.21L816.38 1248.92M796.72 1257.07H819.76M808.24 1245.55V1268.59" stroke="#0000FF"/>
<path d="M829.12 1239.1L845.4 1255.38M829.12 1255.38L845.4 1239.1M825.74 1247.24H848.78M837.26 1235.72V1258.76" stroke="#0000FF"/>
<path d="M832.11 1244.21L848.39 1260.5M832.11 1260.5L848.39 1244.21M828.73 1252.36H851.77M840.25 1240.84V1263.88" stroke="#0000FF"/>
<path d="M805.86 1294.95L822.14 1311.24M805.86 1311.24L822.14 1294.95M802.48 1303.1H825.52M814 1291.58V1314.62" stroke="#22FF00"/>
<path d="M828.32 1294.65L844.61 1310.94M828.32 1310.94L844.61 1294.65M824.94 1302.8H847.98M836.46 1291.28V1314.32" stroke="#0000FF"/>
<path d="M845.91 1294.95L862.2 1311.24M845.91 1311.24L862.2 1294.95M842.54 1303.1H865.58M854.06 1291.58V1314.62" stroke="#22FF00"/>
<path d="M956.21 1260.45L972.5 1276.74M956.21 1276.74L972.5 1260.45M952.83 1268.6H975.87M964.35 1257.08V1280.12" stroke="#0000FF"/>
<path d="M1018.12 1294.45L1034.4 1310.74M1018.12 1310.74L1034.4 1294.45M1014.74 1302.6H1037.78M1026.26 1291.08V1314.12" stroke="#22FF00"/>
<path d="M1042.16 1294.93L1058.45 1311.22M1042.16 1311.22L1058.45 1294.93M1038.79 1303.08H1061.83M1050.31 1291.56V1314.6" stroke="#22FF00"/>
<path d="M1279.72 1207.29L1296.01 1223.58M1279.72 1223.58L1296.01 1207.29M1276.35 1215.43H1299.39M1287.87 1203.91V1226.95" stroke="#0000FF"/>
<path d="M1272.72 1290.86L1289.01 1307.14M1272.72 1307.14L1289.01 1290.86M1269.35 1299H1292.39M1280.87 1287.48V1310.52" stroke="#0000FF"/>
<path d="M1433.63 1237.08L1449.92 1253.37M1433.63 1253.37L1449.92 1237.08M1430.26 1245.22H1453.3M1441.78 1233.7V1256.74" stroke="#0000FF"/>
<path d="M1433.45 1278.13L1449.74 1294.42M1433.45 1294.42L1449.74 1278.13M1430.08 1286.28H1453.12M1441.6 1274.76V1297.8" stroke="#22FF00"/>
<path d="M1440.45 1294.95L1456.74 1311.24M1440.45 1311.24L1456.74 1294.95M1437.08 1303.1H1460.12M1448.6 1291.58V1314.62" stroke="#22FF00"/>
<path d="M1444.36 1294.95L1460.64 1311.24M1444.36 1311.24L1460.64 1294.95M1440.98 1303.1H1464.02M1452.5 1291.58V1314.62" stroke="#22FF00"/>
<path d="M1555.56 1294.95L1571.85 1311.24M1555.56 1311.24L1571.85 1294.95M1552.18 1303.1H1575.22M1563.7 1291.58V1314.62" stroke="#22FF00"/>
<path d="M1617.38 1225.31L1633.66 1241.6M1617.38 1241.6L1633.66 1225.31M1614 1233.45H1637.04M1625.52 1221.93V1244.97" stroke="#0000FF"/>
<path d="M1781.38 1291.43L1797.66 1307.72M1781.38 1307.72L1797.66 1291.43M1778 1299.58H1801.04M1789.52 1288.06V1311.1" stroke="#0000FF"/>
<path d="M1799.51 1183.13L1815.8 1199.42M1799.51 1199.42L1815.8 1183.13M1796.13 1191.28H1819.17M1807.65 1179.76V1202.8" stroke="#22FF00"/>
<path d="M2026.92 1294.8L2043.21 1311.09M2026.92 1311.09L2043.21 1294.8M2023.55 1302.94H2046.59M2035.07 1291.42V1314.46" stroke="#22FF00"/>
<path d="M2096.89 1292.25L2113.18 1308.54M2096.89 1308.54L2113.18 1292.25M2093.51 1300.39H2116.55M2105.03 1288.87V1311.91" stroke="#22FF00"/>
<path d="M2106.72 1288.92L2123.01 1305.21M2106.72 1305.21L2123.01 1288.92M2103.34 1297.07H2126.38M2114.86 1285.55V1308.59" stroke="#22FF00"/>
<path d="M2112.89 1243.77L2129.18 1260.06M2112.89 1260.06L2129.18 1243.77M2109.52 1251.91H2132.56M2121.04 1240.39V1263.43" stroke="#0000FF"/>
<path d="M2112.89 1264.03L2129.18 1280.32M2112.89 1280.32L2129.18 1264.03M2109.52 1272.17H2132.56M2121.04 1260.65V1283.69" stroke="#0000FF"/>
<path d="M2112.89 1289.71L2129.18 1306M2112.89 1306L2129.18 1289.71M2109.52 1297.86H2132.56M2121.04 1286.34V1309.38" stroke="#0000FF"/>
</g>
<rect x="182.01" y="24.01" width="2039.47" height="1338.97" fill="none" stroke="#262626" stroke-width="2.23"/>
<g stroke="#262626" stroke-width="4.45" fill="none">
<path d="M169.44 1303.17H180.9"/>
<path d="M169.44 998.34H180.9"/>
<path d="M169.44 693.52H180.9"/>
<path d="M169.44 388.69H180.9"/>
<path d="M169.44 83.87H180.9"/>
<path d="M353.4 1364.1V1375.56"/>
<path d="M919.45 1364.1V1375.56"/>
<path d="M1485.5 1364.1V1375.56"/>
<path d="M2051.55 1364.1V1375.56"/>
</g>
<text class="at" text-anchor="end" transform="translate(159.27 1317) scale(1 1.05)">0.00</text>
<text class="at" text-anchor="end" transform="translate(159.27 1012) scale(1 1.05)">0.25</text>
<text class="at" text-anchor="end" transform="translate(159.27 707) scale(1 1.05)">0.50</text>
<text class="at" text-anchor="end" transform="translate(159.27 402) scale(1 1.05)">0.75</text>
<text class="at" text-anchor="end" transform="translate(159.27 97) scale(1 1.05)">1.00</text>
<text class="at" text-anchor="middle" transform="translate(353.4 1412) scale(1 1.05)">15,810,000</text>
<text class="at" text-anchor="middle" transform="translate(919.45 1412) scale(1 1.05)">15,820,000</text>
<text class="at" text-anchor="middle" transform="translate(1485.5 1412) scale(1 1.05)">15,830,000</text>
<text class="at" text-anchor="middle" transform="translate(2051.55 1412) scale(1 1.05)">15,840,000</text>
<text class="ti" text-anchor="middle" transform="translate(1201.75 1466.7) scale(1 1.02)">Genomic location of ZRSR2 (GRCh37 chrX:15808595-15841383, gray = exons)</text>
<text class="ti" text-anchor="middle" transform="translate(55.6 693.5) rotate(-90) scale(1 1.02)">CAPICE score (pathogenicity estimate)</text>
<text class="ti" transform="translate(2293.1 412.8) scale(1 1.02)">Source</text>
<g class="pt">
<path d="M2317.88 466.3L2329.4 454.78L2340.92 466.3L2329.4 477.82Z" stroke="#000000"/>
<rect x="2321.26" y="530.15" width="16.29" height="16.29" stroke="#000000"/>
<path d="M2321.26 602.15L2337.55 618.44M2321.26 618.44L2337.55 602.15M2317.88 610.3H2340.92M2329.4 598.78V621.82" stroke="#000000"/>
</g>
<text class="lt" transform="translate(2374.2 479.7) scale(1 1.02)">CAPICE Testing</text>
<text class="lt" transform="translate(2374.2 551.7) scale(1 1.02)">CAPICE Training</text>
<text class="lt" transform="translate(2374.2 623.7) scale(1 1.02)">VKGL Oct. 2019</text>
<text class="ti" transform="translate(2293.1 774.1) scale(1 1.02)">Classification</text>
<circle cx="2329.4" cy="827.7" r="9.62" fill="#22FF00"/>
<text class="lt" transform="translate(2374.2 840.9) scale(1 1.02)">LB/B</text>
<circle cx="2329.4" cy="899.7" r="9.62" fill="#FF0000"/>
<text class="lt" transform="translate(2374.2 912.9) scale(1 1.02)">LP/P</text>
<circle cx="2329.4" cy="971.7" r="9.62" fill="#0000FF"/>
<text class="lt" transform="translate(2374.2 984.9) scale(1 1.02)">VUS</text>
</svg>
</body>
</html>
